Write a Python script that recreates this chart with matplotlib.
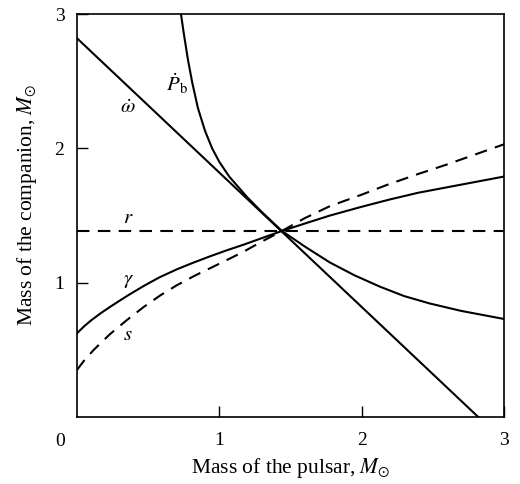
import numpy as np
import matplotlib.pyplot as plt

plt.rcParams["font.family"] = ["Liberation Serif", "DejaVu Serif"]
plt.rcParams["mathtext.fontset"] = "stix"

# curves (pulsar mass, companion mass)
omega_x = [0.0, 2.82]
omega_y = [2.82, 0.0]

r_x = [0.0, 3.0]
r_y = [1.385, 1.385]

pb_x = [0.731, 0.75, 0.78, 0.81, 0.85, 0.90, 0.95, 1.0, 1.07, 1.193, 1.3, 1.44,
        1.6, 1.778, 1.95, 2.13, 2.3, 2.48, 2.7, 3.0]
pb_y = [3.0, 2.86, 2.66, 2.49, 2.30, 2.13, 2.0, 1.90, 1.79, 1.64, 1.525, 1.385,
        1.27, 1.15, 1.055, 0.97, 0.90, 0.845, 0.79, 0.73]

gamma_x = [0.0, 0.05, 0.1, 0.17, 0.234, 0.35, 0.468, 0.58, 0.703, 0.82, 0.937,
           1.05, 1.171, 1.3, 1.44, 1.6, 1.778, 2.0, 2.2, 2.4, 2.6, 2.8, 3.0]
gamma_y = [0.623, 0.675, 0.72, 0.775, 0.821, 0.90, 0.975, 1.04, 1.10, 1.15, 1.197,
           1.24, 1.283, 1.332, 1.385, 1.44, 1.5, 1.565, 1.62, 1.67, 1.71, 1.75, 1.79]

s_x = [0.0, 0.05, 0.117, 0.23, 0.351, 0.47, 0.585, 0.7, 0.82, 0.94, 1.054,
       1.17, 1.288, 1.44, 1.6, 1.778, 2.0, 2.176, 2.4, 2.6, 2.8, 3.0]
s_y = [0.35, 0.42, 0.499, 0.615, 0.722, 0.82, 0.905, 0.98, 1.048, 1.11, 1.169,
       1.23, 1.30, 1.385, 1.48, 1.57, 1.655, 1.727, 1.81, 1.88, 1.955, 2.03]

fig = plt.figure(figsize=(5.2, 4.84), dpi=100)
ax = fig.add_axes([0.148, 0.1384, 0.821, 0.8326])

lw = 1.5
ax.plot(omega_x, omega_y, color="black", lw=lw)
ax.plot(pb_x, pb_y, color="black", lw=lw)
ax.plot(gamma_x, gamma_y, color="black", lw=lw)
ax.plot(r_x, r_y, color="black", lw=lw, dashes=(6, 4))
ax.plot(s_x, s_y, color="black", lw=lw, dashes=(6, 4))

fs = 14
lfs = 15
ax.text(0.36, 2.30, r"$\dot{\omega}$", fontsize=lfs, ha="center", va="center")
ax.text(0.70, 2.48, r"$\dot{P}_{\mathrm{b}}$", fontsize=lfs, ha="center", va="center")
ax.text(0.36, 1.48, r"$r$", fontsize=lfs, ha="center", va="center")
ax.text(0.36, 1.02, r"$\gamma$", fontsize=lfs, ha="center", va="center")
ax.text(0.36, 0.61, r"$s$", fontsize=lfs, ha="center", va="center")

ax.set_xlim(0, 3)
ax.set_ylim(0, 3)
ax.set_xticks([1, 2, 3])
ax.set_yticks([1, 2, 3])
ax.tick_params(direction="in", length=8, width=1, labelsize=fs)
ax.tick_params(axis="x", pad=11)
ax.tick_params(axis="y", pad=9)
for sp in ax.spines.values():
    sp.set_linewidth(1.2)

ax.text(-0.12, -0.18, "0", fontsize=fs, ha="center", va="center", transform=ax.transData)

ax.set_xlabel(r"Mass of the pulsar, $M_{\odot}$", fontsize=15.5, labelpad=5)
ax.set_ylabel(r"Mass of the companion, $M_{\odot}$", fontsize=15.5)
ax.yaxis.set_label_coords(-0.089, 0.526)

fig.savefig("out.png", dpi=100)
